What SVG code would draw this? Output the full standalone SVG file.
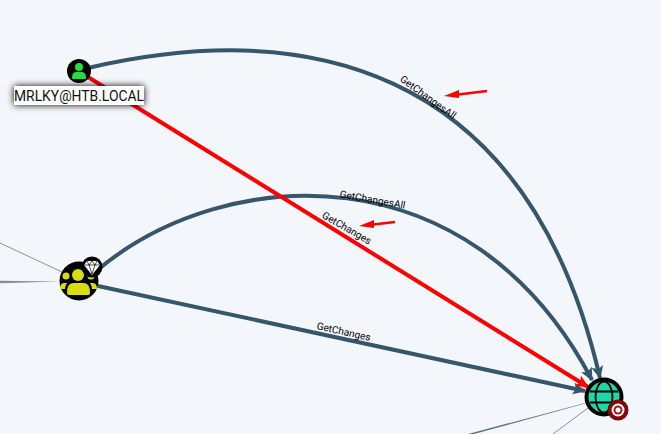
<svg xmlns="http://www.w3.org/2000/svg" width="661" height="434" viewBox="0 0 661 434">
<style>
.e{fill:none;stroke:#36566b;stroke-width:4}
.g{fill:none;stroke:#8294a3;stroke-width:1}
.l{font-family:Roboto,"Liberation Sans",sans-serif;font-size:10.100px;fill:#000;text-anchor:middle}
</style>
<defs>
<marker id="ah" markerUnits="userSpaceOnUse" markerWidth="14" markerHeight="14" refX="12" refY="6" orient="auto"><path d="M0,0L13,6L0,12L3,6Z" fill="#36566b"/></marker>
<marker id="ar" markerUnits="userSpaceOnUse" markerWidth="14" markerHeight="14" refX="12" refY="6" orient="auto"><path d="M0,0L13,6L0,12L3,6Z" fill="#f00"/></marker>
<filter id="sh" x="-10%" y="-50%" width="120%" height="200%"><feGaussianBlur stdDeviation="3.500"/></filter>
</defs>
<rect width="661" height="434" fill="#f3f6fb"/>
<g id="connectors">
<path class="g" d="M0,243L62,272"/>
<path d="M0,280.800L60,281.500L0,283.200Z" fill="#7d90a0"/>
<path d="M468,434L586,402.700L586,403.300L474,434Z" fill="#5f7688"/>
<path class="g" d="M553,434L588,408"/>
<path class="e" marker-end="url(#ah)" d="M88,68C295,20 525,55 600,378"/>
<path class="e" marker-end="url(#ah)" d="M100,268C225,165 470,148 592,380"/>
<path class="e" marker-end="url(#ah)" d="M98,286L585,391"/>
<path fill="none" stroke="#f00" stroke-width="4" marker-end="url(#ar)" d="M88,77L588,387"/>
<text class="l" transform="translate(426,100) rotate(36)">GetChangesAll</text>
<text class="l" transform="translate(372,203) rotate(10)">GetChangesAll</text>
<text class="l" transform="translate(345,231) rotate(30)">GetChanges</text>
<text class="l" transform="translate(343,335) rotate(12.500)">GetChanges</text>
</g>
<g id="annotations">
<path d="M487,91L458,94.500" stroke="#f00" stroke-width="2.500" fill="none"/><path d="M444,96L459,90L459,98Z" fill="#f00"/>
<path d="M395,222L373,224.500" stroke="#f00" stroke-width="2.500" fill="none"/><path d="M359,226L374,220L374,228Z" fill="#f00"/>
</g>
<g id="node-user">
<circle cx="79" cy="71" r="12" fill="#000"/>
<circle cx="79" cy="67" r="4" fill="#1fe03c"/>
<path d="M72,78q0,-6 4,-6h6q4,0 4,6q0,1 -1,1h-12q-1,0 -1,-1Z" fill="#1fe03c"/>
<rect x="14" y="86" width="130" height="19" fill="#000" filter="url(#sh)"/>
<rect x="14" y="86" width="130" height="19" fill="#fff"/>
<text x="79" y="101" font-family="Roboto,'Liberation Sans',sans-serif" font-size="15" text-anchor="middle" textLength="130" lengthAdjust="spacingAndGlyphs" fill="#111">MRLKY@HTB.LOCAL</text>
</g>
<g id="node-group">
<circle cx="79" cy="281" r="19.500" fill="#000"/>
<circle cx="78" cy="275" r="6" fill="#d8dc10"/>
<circle cx="66" cy="276" r="3.500" fill="#d8dc10"/>
<circle cx="91" cy="276" r="3.500" fill="#d8dc10"/>
<path d="M67,293q0,-10 6,-10h11q6,0 6,10q0,2 -2,2h-19q-2,0 -2,-2Z" fill="#d8dc10"/>
<path d="M60,289q0,-6 4,-6h3q-2,3 -2,6Z" fill="#d8dc10"/>
<path d="M97,289q0,-6 -4,-6h-3q2,3 2,6Z" fill="#d8dc10"/>
<circle cx="92" cy="267" r="10.500" fill="#000"/>
<path d="M87,261h10l3,4l-8,10l-8,-10Z" fill="#fff"/>
<path d="M84,265h16M89,265l3,9l3,-9M87,261l2,4l3,-4l3,4l2,-4" stroke="#000" stroke-width=".7" fill="none"/>
</g>
<g id="node-domain">
<circle cx="604" cy="397" r="19.500" fill="#000"/>
<circle cx="604" cy="397" r="15.500" fill="#1fd6a8"/>
<ellipse cx="604" cy="397" rx="8.500" ry="15.500" fill="none" stroke="#000" stroke-width="1.800"/>
<path d="M590,391.500H618M590,402.500H618" stroke="#000" stroke-width="1.800" fill="none"/>
<circle cx="618" cy="410" r="10.500" fill="#7c0a0a"/>
<circle cx="618" cy="410" r="6.500" fill="#fff"/>
<circle cx="618" cy="410" r="4.500" fill="#a51c1c"/>
<circle cx="618" cy="410" r="2.500" fill="#fff"/>
</g>
</svg>
